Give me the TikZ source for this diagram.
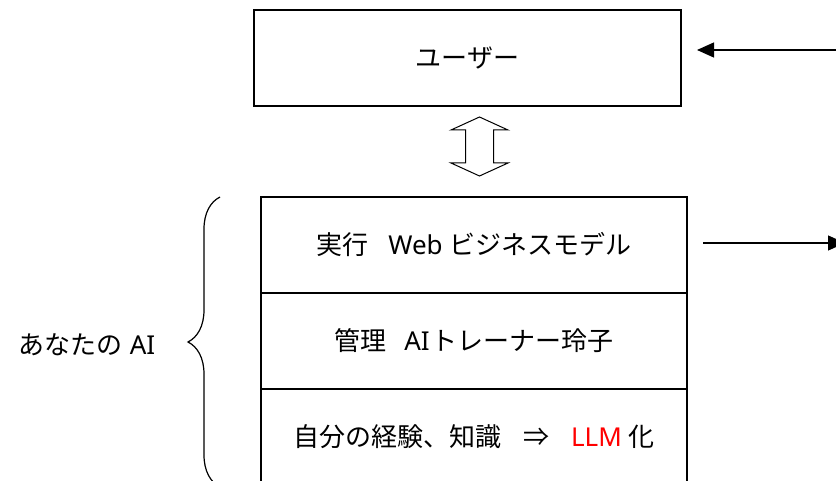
\documentclass[tikz,border=0pt]{standalone}
\usepackage{fontspec}
\setmainfont{Noto Sans CJK JP}
\newfontfamily\latinfont{Noto Sans}
\usetikzlibrary{positioning,calc,arrows.meta,decorations.pathreplacing}
\tikzset{
  box/.style={draw, line width=1.8pt, inner sep=0pt, outer sep=0pt, minimum height=96pt, font=\fontsize{26}{31}\selectfont},
  row/.style={box, minimum width=426pt},
  flow/.style={line width=1.3pt, -{Triangle[length=17pt,width=15pt]}},
}
\newcommand{\lat}[1]{{\latinfont #1}}
\begin{document}
\begin{tikzpicture}[x=1pt,y=-1pt]
  \clip (0,0) rectangle (836,481);
  \fill[white] (0,0) rectangle (836,481);
  \node[box, minimum width=427pt] (user) at (467.5,58) {ユーザー};
  \node[row] (run) at (474,245) {実行\hspace{20pt}\lat{Web}\hspace{7pt}ビジネスモデル};
  \node[row, below=0pt of run] (manage) {管理\hspace{18pt}\lat{AI}\hspace{2pt}トレーナー玲子};
  \node[row, below=0pt of manage] (llm) {自分の経験、知識\hspace{22pt}⇒\hspace{22pt}\textcolor{red}{\lat{LLM}}\hspace{7pt}化};

  % in / out
  \coordinate (usrin) at (836,50);
  \coordinate (bizout) at (845,243);
  \draw[flow] (usrin) -- ($(user.east |- usrin)+(16,0)$);
  \draw[flow] ($(run.east |- bizout)+(16,0)$) -- (bizout);

  % double arrow
  \coordinate (link) at (479.5,146.5);
  \draw[line width=1pt, fill=white] (link) ++(0,-29.5) -- ++(28.5,13) -- ++(-14.5,0) -- ++(0,33) -- ++(14.5,0) -- ++(-28.5,13) -- ++(-28.5,-13) -- ++(14.5,0) -- ++(0,-33) -- ++(-14.5,0) -- cycle;

  % brace
  \coordinate (bracetop) at (220,197);
  \coordinate (bracebot) at (220,487);
  \draw[line width=1.2pt, decorate, decoration={brace, amplitude=32pt, mirror}] (bracetop) -- (bracebot);
  \node[font=\fontsize{26}{31}\selectfont] (yourai) at (87,345) {あなたの\hspace{7pt}\lat{AI}};
\end{tikzpicture}
\end{document}
